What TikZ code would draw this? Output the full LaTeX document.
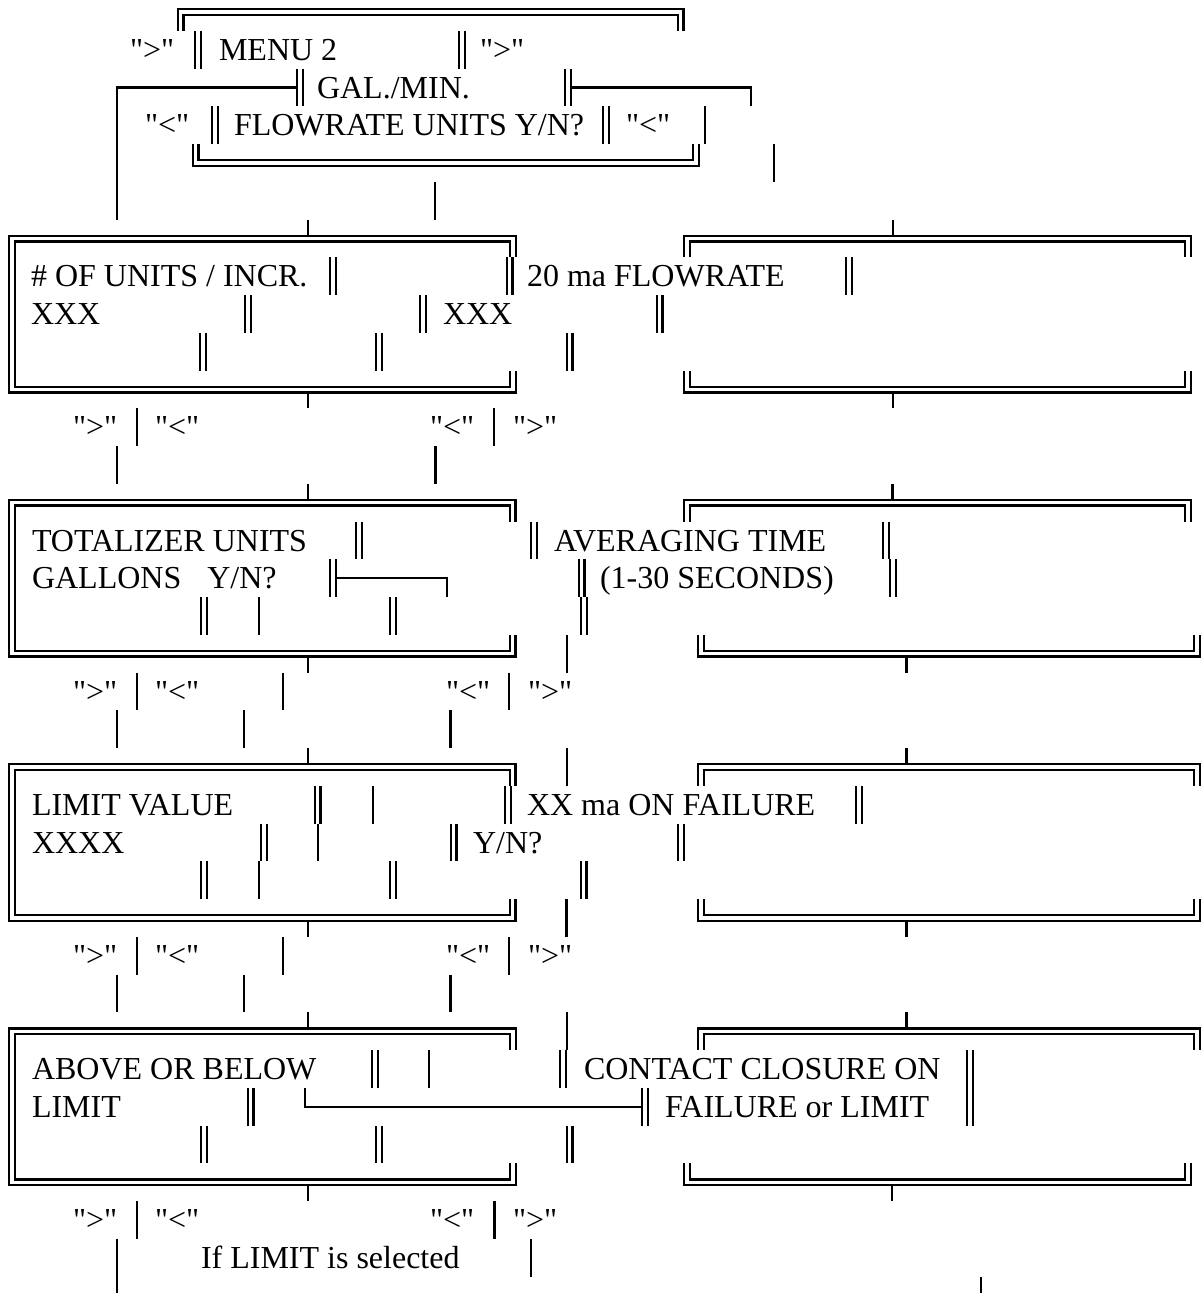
\documentclass[tikz,border=0pt]{standalone}
\usepackage{fontspec}
\setmainfont{Liberation Serif}[Ligatures=TeXOff]
\tikzset{
  sl/.style={line width=2.4pt, line cap=butt, line join=miter},
  dl/.style={line width=2.4pt, line cap=butt, line join=miter},
  txt/.style={anchor=base west, inner sep=0pt, outer sep=0pt, font=\fontsize{32}{38}\selectfont}
}
\newcommand\RY[1]{(12+37.75*(#1))}
\newcommand\SV[2]{\draw[sl] (#1,{\RY{#2}-18.9}) -- (#1,{\RY{#2}+18.9});}
\newcommand\DV[2]{\draw[dl] ({#1-2.8},{\RY{#2}-18.9}) -- ({#1-2.8},{\RY{#2}+18.9});
  \draw[dl] ({#1+2.8},{\RY{#2}-18.9}) -- ({#1+2.8},{\RY{#2}+18.9});}
\newcommand\TOPB[3]{%
  \draw[dl] ({#1-2.8},{\RY{#3}+18.9}) -- ({#1-2.8},{\RY{#3}-2.8}) -- ({#2+2.8},{\RY{#3}-2.8}) -- ({#2+2.8},{\RY{#3}+18.9});
  \draw[dl] ({#1+2.8},{\RY{#3}+18.9}) -- ({#1+2.8},{\RY{#3}+2.8}) -- ({#2-2.8},{\RY{#3}+2.8}) -- ({#2-2.8},{\RY{#3}+18.9});}
\newcommand\BOTB[3]{%
  \draw[dl] ({#1-2.8},{\RY{#3}-18.9}) -- ({#1-2.8},{\RY{#3}+2.8}) -- ({#2+2.8},{\RY{#3}+2.8}) -- ({#2+2.8},{\RY{#3}-18.9});
  \draw[dl] ({#1+2.8},{\RY{#3}-18.9}) -- ({#1+2.8},{\RY{#3}-2.8}) -- ({#2-2.8},{\RY{#3}-2.8}) -- ({#2-2.8},{\RY{#3}-18.9});}
\newcommand\LBOX[3]{%
  \draw[dl] ({#2+2.8},{\RY{#3}+18.9}) -- ({#2+2.8},{\RY{#3}-2.8}) -- ({#1-2.8},{\RY{#3}-2.8}) -- ({#1-2.8},{\RY{#3+4}+2.8}) -- ({#2+2.8},{\RY{#3+4}+2.8}) -- ({#2+2.8},{\RY{#3+4}-18.9});
  \draw[dl] ({#2-2.8},{\RY{#3}+18.9}) -- ({#2-2.8},{\RY{#3}+2.8}) -- ({#1+2.8},{\RY{#3}+2.8}) -- ({#1+2.8},{\RY{#3+4}-2.8}) -- ({#2-2.8},{\RY{#3+4}-2.8}) -- ({#2-2.8},{\RY{#3+4}-18.9});}
\newcommand\TTICK[2]{\draw[sl] (#1,{\RY{#2}-18.9}) -- (#1,{\RY{#2}-2.8});}
\newcommand\BTICK[2]{\draw[sl] (#1,{\RY{#2}+2.8}) -- (#1,{\RY{#2}+18.9});}
\newcommand\TX[4]{\node[txt] (#1) at (#2,{\RY{#3}+10.5}) {#4};}
\begin{document}
\begin{tikzpicture}[x=1pt,y=-1pt]
\useasboundingbox (0,0) rectangle (1202,1293);
\fill[white] (0,0) rectangle (1202,1293);
\clip (0,0) rectangle (1202,1293);

% ---------- MENU 2 block ----------
\TOPB{180.5}{680.5}{0}
\TX{m1}{130}{1}{">"}
\DV{198}{1}
\TX{m2}{219}{1}{MENU 2}
\DV{462}{1}
\TX{m3}{480}{1}{">"}
\DV{300}{2}
\TX{m4}{317}{2}{GAL./MIN.}
\DV{568}{2}
\draw[sl] (117,{\RY{5}+18.9}) -- (117,{\RY{2}}) -- (297.2,{\RY{2}});
\draw[sl] (570.8,{\RY{2}}) -- (751,{\RY{2}}) -- (751,{\RY{2}+18.9});
\TX{m5}{145}{3}{"<"}
\DV{215}{3}
\TX{m6}{234}{3}{FLOWRATE UNITS Y/N?}
\DV{606}{3}
\TX{m7}{626}{3}{"<"}
\SV{705}{3}
\BOTB{195.5}{696}{4}
\SV{774}{4}
\SV{435}{5}

% ---------- block 1 ----------
\LBOX{12}{513}{6}
\TTICK{308}{6}\BTICK{308}{10}
\TOPB{687}{1188}{6}
\BOTB{687}{1188}{10}
\TTICK{893}{6}\BTICK{893}{10}
\TX{a1}{31}{7}{\# OF UNITS / INCR.}
\DV{333}{7}\DV{509.5}{7}
\TX{a2}{527}{7}{20 ma FLOWRATE}
\DV{849}{7}
\TX{a3}{31}{8}{XXX}
\DV{248}{8}\DV{423}{8}
\TX{a4}{443}{8}{XXX}
\DV{659.5}{8}
\DV{203}{9}\DV{379}{9}\DV{569.5}{9}
\TX{a5}{73}{11}{">"}\SV{137}{11}\TX{a6}{155}{11}{"<"}
\TX{a7}{430}{11}{"<"}\SV{494}{11}\TX{a8}{513}{11}{">"}
\SV{117}{12}\SV{435.5}{12}

% ---------- block 2 ----------
\LBOX{12}{512.5}{13}
\TTICK{308}{13}\BTICK{308}{17}
\TOPB{687}{1188}{13}
\BOTB{701}{1197}{17}
\TTICK{892.6}{13}\BTICK{906.5}{17}
\TX{b1}{32}{14}{TOTALIZER UNITS}
\DV{359}{14}\DV{534}{14}
\TX{b2}{554}{14}{AVERAGING TIME}
\DV{886}{14}
\TX{b3}{32}{15}{GALLONS\hspace{26pt}Y/N?}
\DV{333}{15}
\draw[sl] (335.8,{\RY{15}}) -- (447,{\RY{15}}) -- (447,{\RY{15}+18.9});
\DV{581.5}{15}
\TX{b4}{600}{15}{(1-30 SECONDS)}
\DV{893}{15}
\DV{204}{16}\SV{259}{16}\DV{393}{16}\DV{584}{16}
\SV{567}{17}
\TX{b5}{73}{18}{">"}\SV{137}{18}\TX{b6}{155}{18}{"<"}\SV{283}{18}
\TX{b7}{446}{18}{"<"}\SV{509}{18}\TX{b8}{528}{18}{">"}
\SV{117}{19}\SV{244}{19}\SV{450.5}{19}

% ---------- block 3 ----------
\LBOX{12}{512.5}{20}
\TTICK{308}{20}\BTICK{308}{24}
\SV{567}{20}
\TOPB{701}{1197}{20}
\BOTB{701}{1197}{24}
\TTICK{906.5}{20}\BTICK{906.5}{24}
\TX{c1}{32}{21}{LIMIT VALUE}
\DV{317.6}{21}\SV{373}{21}\DV{508}{21}
\TX{c2}{527}{21}{XX ma ON FAILURE}
\DV{859}{21}
\TX{c3}{32}{22}{XXXX}
\DV{264}{22}\SV{318}{22}\DV{453.5}{22}
\TX{c4}{473}{22}{Y/N?}
\DV{681}{22}
\DV{204}{23}\SV{259}{23}\DV{393}{23}\DV{583.6}{23}
\SV{566.5}{24}
\TX{c5}{73}{25}{">"}\SV{137}{25}\TX{c6}{155}{25}{"<"}\SV{283}{25}
\TX{c7}{446}{25}{"<"}\SV{509}{25}\TX{c8}{528}{25}{">"}
\SV{117}{26}\SV{244}{26}\SV{450.5}{26}

% ---------- block 4 ----------
\LBOX{12}{513}{27}
\TTICK{308}{27}\BTICK{308}{31}
\SV{567}{27}
\TOPB{701}{1197}{27}
\BOTB{687}{1188}{31}
\TTICK{906.5}{27}\BTICK{892}{31}
\TX{d1}{32}{28}{ABOVE OR BELOW}
\DV{375}{28}\SV{429}{28}\DV{563}{28}
\TX{d2}{584}{28}{CONTACT CLOSURE ON}
\DV{970}{28}
\TX{d3}{32}{29}{LIMIT}
\DV{250.7}{29}
\draw[sl] (305,{\RY{29}-18.9}) -- (305,{\RY{29}}) -- (642.2,{\RY{29}});
\DV{645}{29}
\TX{d4}{665}{29}{FAILURE or LIMIT}
\DV{970}{29}
\DV{204}{30}\DV{379}{30}\DV{569.5}{30}
\TX{d5}{73}{32}{">"}\SV{137}{32}\TX{d6}{155}{32}{"<"}
\TX{d7}{430}{32}{"<"}\SV{494.5}{32}\TX{d8}{513}{32}{">"}
\SV{117}{33}
\TX{d9}{201}{33}{If LIMIT is selected}
\SV{531}{33}
\SV{117}{34}\SV{981}{34}
\end{tikzpicture}
\end{document}
